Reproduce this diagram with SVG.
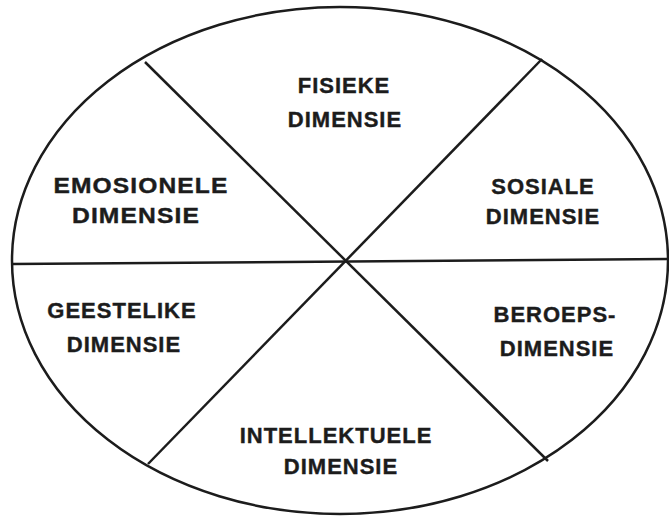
<svg xmlns="http://www.w3.org/2000/svg" width="669" height="516" viewBox="0 0 669 516">
<style>
.ln{fill:none;stroke:#1c1c1c;stroke-width:2.5}
text{font-family:"Liberation Sans",Arial,sans-serif;font-weight:bold;font-size:22px;letter-spacing:1px;fill:#1c1c1c;stroke:#1c1c1c;stroke-width:0.4;text-anchor:middle}
</style>
<rect width="669" height="516" fill="#fff"/>
<g id="connectors">
<ellipse class="ln" cx="340" cy="260.5" rx="328" ry="253.5"/>
<line class="ln" x1="12" y1="264" x2="668" y2="259"/>
<line class="ln" x1="145" y1="62" x2="548" y2="461"/>
<line class="ln" x1="542" y1="59" x2="148" y2="464"/>
</g>
<g id="fisieke"><text x="344" y="93">FISIEKE</text><text x="345" y="127">DIMENSIE</text></g>
<g id="emosionele"><text x="141" y="193" textLength="175" lengthAdjust="spacingAndGlyphs">EMOSIONELE</text><text x="136" y="223" textLength="128" lengthAdjust="spacingAndGlyphs">DIMENSIE</text></g>
<g id="sosiale"><text x="543" y="194">SOSIALE</text><text x="543" y="224">DIMENSIE</text></g>
<g id="geestelike"><text x="122" y="318">GEESTELIKE</text><text x="124" y="352">DIMENSIE</text></g>
<g id="beroeps"><text x="555" y="322">BEROEPS-</text><text x="557" y="356">DIMENSIE</text></g>
<g id="intellektuele"><text x="336" y="443">INTELLEKTUELE</text><text x="341" y="474">DIMENSIE</text></g>
</svg>
